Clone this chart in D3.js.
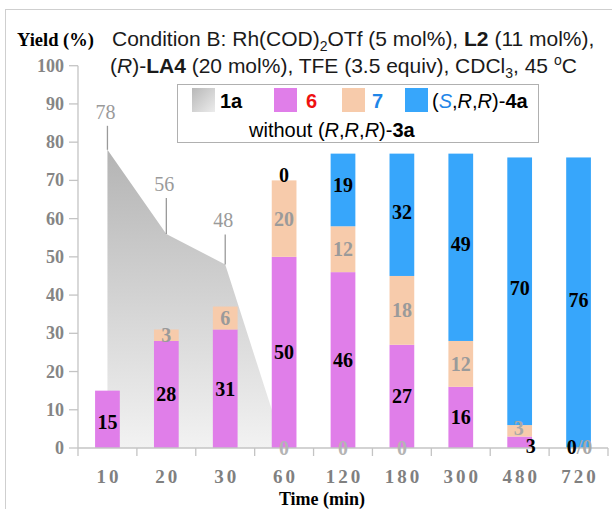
<!DOCTYPE html>
<html lang="en">
<head>
  <meta charset="UTF-8">
  <title>Yield vs time</title>
  <script src="https://cdn.jsdelivr.net/npm/d3@7"></script>
  <style>
    body { margin: 0; background: #fff; }
    svg { display: block; }
  </style>
</head>
<body>
  <script>
    // data
    const times = ['10', '20', '30', '60', '120', '180', '300', '480', '720'];
    const yield6 = [15, 28, 31, 50, 46, 27, 16, 3, 0];
    const yield7 = [0, 3, 6, 20, 12, 18, 12, 3, 0];
    const yield4a = [0, 0, 0, 0, 19, 32, 49, 70, 76];
    // 1a remaining (grey area), only where it was plotted
    const times1a = ['10', '20', '30', '60'];
    const yield1a = [78, 56, 48, 0];
    // which segment values get printed (null = no label)
    const label7 = [null, 3, 6, 20, 12, 18, 12, 3, 0];
    const label4a = [null, null, null, 0, 19, 32, 49, 70, 76];
    const zero1a = ['60', '120', '180'];
    const yTicks = [0, 10, 20, 30, 40, 50, 60, 70, 80, 90, 100];

    const W = 612, H = 509;
    const svg = d3.select('body').append('svg')
      .attr('width', W).attr('height', H);

    const defs = svg.append('defs');
    const grad = defs.append('linearGradient').attr('id', 'g1a')
      .attr('x1', 0).attr('y1', 0).attr('x2', 0).attr('y2', 1);
    grad.append('stop').attr('offset', '0%').attr('stop-color', '#b4b4b4');
    grad.append('stop').attr('offset', '100%').attr('stop-color', '#f2f2f2');
    const gradL = defs.append('linearGradient').attr('id', 'g1aL')
      .attr('x1', 0).attr('y1', 0).attr('x2', 1).attr('y2', 1);
    gradL.append('stop').attr('offset', '0%').attr('stop-color', '#b8b8b8');
    gradL.append('stop').attr('offset', '100%').attr('stop-color', '#ececec');

    // outer frame
    svg.append('rect').attr('x', 5.5).attr('y', 9.5).attr('width', 640).attr('height', 560)
      .attr('fill', 'none').attr('stroke', '#cfcfcf');

    const x = d3.scaleBand().domain(times).range([78, 608])
      .paddingInner(0.58).paddingOuter(0.29);
    const y = d3.scaleLinear().domain([0, 100]).range([448, 65.7]);
    const cx = t => x(t) + x.bandwidth() / 2;

    const col = { s6: '#e07ee9', s7: '#f7cbab', s4a: '#37a6fb' };
    const serif = '"Liberation Serif", "Times New Roman", serif';
    const sans = '"Liberation Sans", Arial, sans-serif';

    // 1a grey area
    const area = d3.area().x(d => cx(d.t)).y0(y(0)).y1(d => y(d.v));
    const pts = times1a.map((t, i) => ({ t, v: yield1a[i] }));
    svg.append('path').datum(pts).attr('d', area).attr('fill', 'url(#g1a)');

    // stacked bars
    const rows = times.map((t, i) => ({ t, s6: yield6[i], s7: yield7[i], s4a: yield4a[i] }));
    const stack = d3.stack().keys(['s6', 's7', 's4a'])(rows);
    svg.append('g').selectAll('g').data(stack).join('g')
      .attr('fill', d => col[d.key])
      .selectAll('rect').data(d => d).join('rect')
      .attr('x', d => x(d.data.t))
      .attr('width', x.bandwidth())
      .attr('y', d => y(d[1]))
      .attr('height', d => y(d[0]) - y(d[1]));

    // axes
    const ax = svg.append('g').attr('stroke', '#c4c4c4').attr('stroke-width', 1.3);
    ax.append('line').attr('x1', 78).attr('x2', 78).attr('y1', y(0)).attr('y2', y(100));
    ax.append('line').attr('x1', 78).attr('x2', 608).attr('y1', y(0)).attr('y2', y(0));
    ax.selectAll('.yt').data(yTicks).join('line')
      .attr('x1', 69).attr('x2', 78).attr('y1', d => y(d)).attr('y2', d => y(d));
    const bounds = times.map(t => x(t) - x.step() * 0.29).concat([608]);
    ax.selectAll('.xt').data(bounds).join('line')
      .attr('x1', d => d).attr('x2', d => d).attr('y1', y(0)).attr('y2', y(0) + 8);

    svg.append('g').selectAll('text').data(yTicks).join('text')
      .attr('x', 64).attr('y', d => y(d) + 6)
      .attr('text-anchor', 'end')
      .style('font', `bold 18px ${serif}`).attr('fill', '#858585')
      .text(d => d);

    svg.append('g').selectAll('text').data(times).join('text')
      .attr('x', d => cx(d) + 1.5).attr('y', 483)
      .attr('text-anchor', 'middle')
      .style('font', `bold 19px ${serif}`).style('letter-spacing', '3px')
      .attr('fill', '#808080')
      .text(d => d);

    svg.append('text').attr('x', 322).attr('y', 505).attr('text-anchor', 'middle')
      .style('font', `bold 18px ${serif}`).text('Time (min)');
    svg.append('text').attr('x', 17).attr('y', 46)
      .style('font', `bold 18.5px ${serif}`).text('Yield (%)');

    // 1a labels with leader lines
    const lead = [24, 36, 30];
    pts.slice(0, 3).forEach((d, i) => {
      svg.append('line').attr('x1', cx(d.t)).attr('x2', cx(d.t))
        .attr('y1', y(d.v)).attr('y2', y(d.v) - lead[i])
        .attr('stroke', '#9a9a9a').attr('stroke-width', 1.3);
      svg.append('text').attr('x', cx(d.t) - 2).attr('y', y(d.v) - lead[i] - 7)
        .attr('text-anchor', 'middle')
        .style('font', `20px ${serif}`).attr('fill', '#9a9a9a')
        .text(d.v);
    });
    zero1a.forEach(t => {
      svg.append('text').attr('x', cx(t)).attr('y', y(0) + 7)
        .attr('text-anchor', 'middle')
        .style('font', `bold 20px ${serif}`).attr('fill', '#b4b4b4')
        .text(0);
    });

    // segment labels
    const segLabel = (t, v0, v1, txt, fill, dx, dy) => {
      svg.append('text').attr('x', cx(t) + (dx || 0))
        .attr('y', (y(v0) + y(v1)) / 2 + 7 + (dy || 0))
        .attr('text-anchor', 'middle')
        .style('font', `bold 20px ${serif}`).attr('fill', fill)
        .text(txt);
    };
    rows.forEach((r, i) => {
      if (r.t === '720') return;
      if (r.t === '480') {
        segLabel(r.t, 0, 0, yield6[i], '#000', 11, -2);
        segLabel(r.t, 3, 6, label7[i], '#a8a8a8', -1, -3);
      } else {
        segLabel(r.t, 0, r.s6, yield6[i], '#000', 0, r.t === '10' ? 3 : 0);
        if (label7[i] !== null) segLabel(r.t, r.s6, r.s6 + r.s7, label7[i], '#9a9a9a');
      }
      if (label4a[i] !== null) segLabel(r.t, r.s6 + r.s7, r.s6 + r.s7 + r.s4a, label4a[i], '#000', 0, i < 5 ? -5 : -3);
    });
    // 720: 0/0 at the base
    const t720 = svg.append('text').attr('x', cx('720') + 1).attr('y', y(0) + 6)
      .attr('text-anchor', 'middle').style('font', `bold 20px ${serif}`);
    t720.append('tspan').attr('fill', '#000').text(yield6[8]);
    t720.append('tspan').attr('fill', '#a8a8a8').text('/' + yield7[8]);
    segLabel('720', 0, 76, label4a[8], '#000', 0, -3);

    // condition text
    const cond = svg.append('g').style('font', `21px ${sans}`).attr('fill', '#1a1a1a');
    const l1 = cond.append('text').attr('x', 112).attr('y', 46);
    l1.append('tspan').text('Condition B: Rh(COD)');
    l1.append('tspan').attr('dy', 5).style('font-size', '14px').text('2');
    l1.append('tspan').attr('dy', -5).text('OTf (5 mol%), ');
    l1.append('tspan').style('font-weight', 'bold').text('L2');
    l1.append('tspan').text(' (11 mol%),');
    const l2 = cond.append('text').attr('x', 110).attr('y', 73);
    l2.append('tspan').text('(');
    l2.append('tspan').style('font-style', 'italic').text('R');
    l2.append('tspan').text(')-');
    l2.append('tspan').style('font-weight', 'bold').text('LA4');
    l2.append('tspan').text(' (20 mol%), TFE (3.5 equiv), CDCl');
    l2.append('tspan').attr('dy', 5).style('font-size', '14px').text('3');
    l2.append('tspan').attr('dy', -5).text(', 45 ');
    l2.append('tspan').attr('dy', -8).style('font-size', '14px').text('o');
    l2.append('tspan').attr('dy', 8).text('C');

    // legend
    const lg = svg.append('g');
    lg.append('rect').attr('x', 177.5).attr('y', 84.5).attr('width', 361).attr('height', 58)
      .attr('fill', '#fff').attr('stroke', '#b0b0b0');
    const legItems = [
      { x: 192, fill: 'url(#g1aL)' },
      { x: 274, fill: col.s6 },
      { x: 342, fill: col.s7 },
      { x: 405, fill: col.s4a }
    ];
    lg.selectAll('.sw').data(legItems).join('rect')
      .attr('x', d => d.x).attr('y', 88).attr('width', 23).attr('height', 24)
      .attr('fill', d => d.fill);
    const lt = (xx, yy) => lg.append('text').attr('x', xx).attr('y', yy).style('font', `20px ${sans}`);
    lt(220, 108).append('tspan').style('font-weight', 'bold').text('1a');
    lt(306, 108).append('tspan').style('font-weight', 'bold').attr('fill', '#ee1111').text('6');
    lt(372, 108).append('tspan').style('font-weight', 'bold').attr('fill', '#1f86e8').text('7');
    const t4 = lt(432, 108);
    t4.append('tspan').text('(');
    t4.append('tspan').style('font-style', 'italic').attr('fill', '#1f86e8').text('S');
    t4.append('tspan').text(',');
    t4.append('tspan').style('font-style', 'italic').text('R');
    t4.append('tspan').text(',');
    t4.append('tspan').style('font-style', 'italic').text('R');
    t4.append('tspan').text(')-');
    t4.append('tspan').style('font-weight', 'bold').text('4a');
    const t3 = lt(249, 137);
    t3.append('tspan').text('without (');
    t3.append('tspan').style('font-style', 'italic').text('R');
    t3.append('tspan').text(',');
    t3.append('tspan').style('font-style', 'italic').text('R');
    t3.append('tspan').text(',');
    t3.append('tspan').style('font-style', 'italic').text('R');
    t3.append('tspan').text(')-');
    t3.append('tspan').style('font-weight', 'bold').text('3a');
  </script>
</body>
</html>
